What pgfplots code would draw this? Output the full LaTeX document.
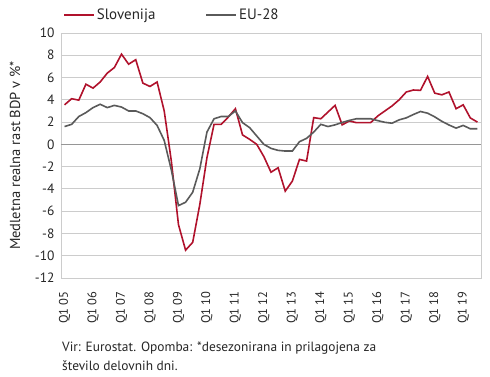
\documentclass[border=0pt]{standalone}
\usepackage{pgfplots}
\usepackage{pgfplotstable}
\pgfplotsset{compat=1.18}
\usepackage{fontspec}
\setmainfont{PT Sans}
\definecolor{slo}{RGB}{176,18,44}
\definecolor{eu}{RGB}{90,90,90}
\definecolor{gridc}{RGB}{204,204,204}
\definecolor{zeroc}{RGB}{150,150,150}
\pgfplotstableread{
i slo eu
0 3.55 1.6
1 4.1 1.8
2 3.97 2.5
3 5.4 2.85
4 5.05 3.3
5 5.6 3.6
6 6.4 3.3
7 6.9 3.5
8 8.1 3.35
9 7.2 3.0
10 7.6 3.0
11 5.5 2.75
12 5.2 2.4
13 5.6 1.7
14 3.0 0.35
15 -1.5 -2.3
16 -7.2 -5.5
17 -9.5 -5.2
18 -8.8 -4.3
19 -5.4 -2.2
20 -1.2 1.1
21 1.8 2.3
22 1.8 2.5
23 2.45 2.5
24 3.2 3.0
25 0.85 1.95
26 0.45 1.5
27 0.0 0.75
28 -1.1 0.0
29 -2.5 -0.36
30 -2.1 -0.54
31 -4.2 -0.6
32 -3.3 -0.6
33 -1.35 0.24
34 -1.5 0.54
35 2.4 1.1
36 2.3 1.8
37 2.9 1.6
38 3.5 1.75
39 1.75 1.97
40 2.1 2.15
41 1.95 2.3
42 1.95 2.3
43 1.95 2.3
44 2.55 2.13
45 3.0 1.98
46 3.45 1.9
47 4.0 2.2
48 4.7 2.38
49 4.88 2.68
50 4.85 2.95
51 6.1 2.8
52 4.6 2.47
53 4.45 2.07
54 4.7 1.74
55 3.2 1.46
56 3.55 1.7
57 2.37 1.4
58 2.0 1.4
}\data
\begin{document}
\begin{tikzpicture}
\useasboundingbox (-61pt,-99pt) rectangle (429pt,278pt);
\begin{axis}[
  at={(0,0)}, anchor=south west,
  scale only axis, width=420pt, height=245pt,
  xmin=-0.5, xmax=58.5, ymin=-12, ymax=10,
  ytick={-12,-10,...,10},
  xtick={0,4,...,56},
  xticklabels={Q1 05,Q1 06,Q1 07,Q1 08,Q1 09,Q1 10,Q1 11,Q1 12,Q1 13,Q1 14,Q1 15,Q1 16,Q1 17,Q1 18,Q1 19},
  ymajorgrids,
  grid style={gridc, line width=0.9pt},
  axis line style={gridc, line width=0.9pt},
  major tick length=0pt,
  /pgf/number format/assume math mode=true,
  tick label style={font=\fontsize{13.5}{15}\selectfont, text=black!85},
  yticklabel style={xshift=-3pt},
  xticklabel style={font=\fontsize{12.5}{14}\selectfont, rotate=90, anchor=east, xshift=-10pt},
  extra y ticks={0},
  extra y tick labels={},
  extra y tick style={grid style={zeroc, line width=0.9pt}},
  ylabel={Medletna realna rast BDP v \%*},
  ylabel style={at={(axis description cs:-0.1095,0.5)}, anchor=center, rotate=0, font=\fontsize{14.5}{16}\selectfont, text=black!85},
  legend columns=2,
  legend style={draw=none, fill=none, at={(axis description cs:0.005,1.0735)}, anchor=west, inner sep=0pt,
    font=\fontsize{15}{17}\selectfont, text=black!85,
    /tikz/every even column/.append style={column sep=48pt}},
  legend image code/.code={\draw[#1, line width=1.6pt] (0pt,0pt) -- (30pt,0pt);},
]
\addplot[slo, line width=1.6pt] table[x=i, y=slo] {\data};
\addlegendentry{Slovenija}
\addplot[eu, line width=1.6pt] table[x=i, y=eu] {\data};
\addlegendentry{EU-28}
\end{axis}
\node[anchor=base west, inner sep=0pt, font=\fontsize{13.4}{16}\selectfont, text=black!85] at (1pt,-74pt) {Vir: Eurostat. Opomba: *desezonirana in prilagojena za};
\node[anchor=base west, inner sep=0pt, font=\fontsize{13.4}{16}\selectfont, text=black!85] at (1pt,-93pt) {število delovnih dni.};
\end{tikzpicture}
\end{document}
